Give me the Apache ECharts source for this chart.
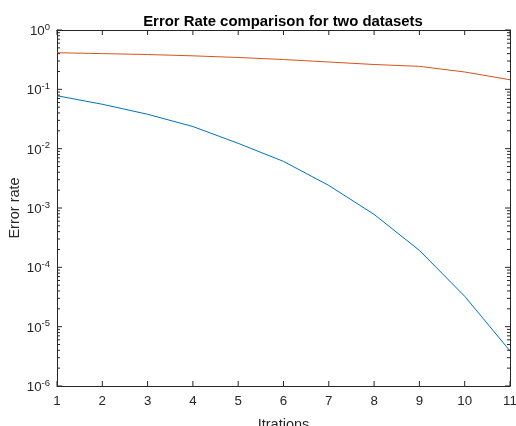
<!DOCTYPE html>
<html>
<head>
<meta charset="utf-8">
<script src="https://cdn.jsdelivr.net/npm/echarts@6/dist/echarts.min.js"></script>
<style>html,body{margin:0;padding:0;background:#fff;}#c{width:516px;height:426px;}</style>
</head>
<body>
<div id="c"></div>
<script>
const iterations = [1, 2, 3, 4, 5, 6, 7, 8, 9, 10, 11];
const datasetA = [0.078, 0.056, 0.038, 0.0236, 0.0123, 0.0061, 0.0024, 0.00078, 0.000193, 0.0000325, 0.0000039];
const datasetB = [0.414, 0.400, 0.386, 0.367, 0.344, 0.318, 0.289, 0.262, 0.244, 0.196, 0.145];
const xTicks = [1, 2, 3, 4, 5, 6, 7, 8, 9, 10, 11];
const yMajorTicks = [1e-6, 1e-5, 1e-4, 1e-3, 1e-2, 1e-1, 1];
const yMinorTicks = [];
for (let e = -6; e < 0; e++) { for (let m = 2; m <= 9; m++) { yMinorTicks.push(m * Math.pow(10, e)); } }

const font = 'Liberation Sans, Arial, sans-serif';
const axisColor = '#262626';
const X_MIN = 1, X_MAX = 11, Y_MIN = 1e-6, Y_MAX = 1;
const chart = echarts.init(document.getElementById('c'));

function yTickSeries(values, len) {
  return {
    type: 'custom', silent: true, clip: false, z: 5,
    data: values.map(v => [X_MIN, v]),
    encode: { x: 0, y: 1 },
    renderItem: function (params, api) {
      const l = api.coord([X_MIN, api.value(1)]);
      const r = api.coord([X_MAX, api.value(1)]);
      const st = { stroke: axisColor, lineWidth: 1 };
      return {
        type: 'group', children: [
          { type: 'line', shape: { x1: l[0], y1: l[1], x2: l[0] + len, y2: l[1] }, style: st },
          { type: 'line', shape: { x1: r[0], y1: r[1], x2: r[0] - len, y2: r[1] }, style: st }
        ]
      };
    }
  };
}

chart.setOption({
  animation: false,
  backgroundColor: '#fff',
  title: {
    text: 'Error Rate comparison for two datasets', left: 278, top: 9, textAlign: 'center',
    textStyle: { fontSize: 14.9, fontWeight: 'bold', fontFamily: font, color: '#000' }
  },
  grid: { left: 57, right: 6, top: 30, bottom: 40, containLabel: false, outerBoundsMode: 'none' },
  xAxis: [
    {
      type: 'value', min: X_MIN, max: X_MAX, interval: 1, position: 'bottom',
      axisLine: { show: true, lineStyle: { color: axisColor } },
      axisTick: { show: false },
      axisLabel: { fontSize: 13.3, fontFamily: font, color: axisColor, margin: 9 },
      splitLine: { show: false },
      name: 'Itrations', nameLocation: 'middle', nameGap: 31, nameMoveOverlap: false,
      nameTextStyle: { fontSize: 14.5, fontFamily: font, color: axisColor }
    },
    {
      type: 'value', min: X_MIN, max: X_MAX, interval: 1, position: 'top',
      axisLine: { show: true, lineStyle: { color: axisColor } },
      axisTick: { show: false }, axisLabel: { show: false }, splitLine: { show: false }
    }
  ],
  yAxis: [
    {
      type: 'log', logBase: 10, min: Y_MIN, max: Y_MAX, position: 'left',
      axisLine: { show: true, lineStyle: { color: axisColor } },
      axisTick: { show: false },
      axisLabel: {
        show: true, margin: 7,
        formatter: function (v) { const e = Math.round(Math.log10(v)); return '{b|10}{s|' + e + '}'; },
        rich: {
          b: { fontSize: 13.3, fontFamily: font, color: axisColor, verticalAlign: 'bottom', lineHeight: 16, padding: [4, 0, 0, 0] },
          s: { fontSize: 9.5, fontFamily: font, color: axisColor, verticalAlign: 'top', lineHeight: 16, padding: [0, 0, 6, 0] }
        }
      },
      splitLine: { show: false },
      name: 'Error rate', nameLocation: 'middle', nameGap: 35, nameMoveOverlap: false,
      nameTextStyle: { fontSize: 14.5, fontFamily: font, color: axisColor }
    },
    {
      type: 'log', logBase: 10, min: Y_MIN, max: Y_MAX, position: 'right',
      axisLine: { show: true, lineStyle: { color: axisColor } },
      axisTick: { show: false }, axisLabel: { show: false }, splitLine: { show: false }
    }
  ],
  series: [
    {
      type: 'line', name: 'A', showSymbol: false, symbol: 'none',
      data: iterations.map((x, i) => [x, datasetA[i]]),
      lineStyle: { color: '#0072BD', width: 1 }, itemStyle: { color: '#0072BD' }
    },
    {
      type: 'line', name: 'B', showSymbol: false, symbol: 'none',
      data: iterations.map((x, i) => [x, datasetB[i]]),
      lineStyle: { color: '#D95319', width: 1 }, itemStyle: { color: '#D95319' }
    },
    yTickSeries(yMajorTicks, 5),
    yTickSeries(yMinorTicks, 3),
    {
      type: 'custom', silent: true, clip: false, z: 5,
      data: xTicks.map(v => [v, Y_MIN]),
      encode: { x: 0, y: 1 },
      renderItem: function (params, api) {
        const b = api.coord([api.value(0), Y_MIN]);
        const t = api.coord([api.value(0), Y_MAX]);
        const st = { stroke: axisColor, lineWidth: 1 };
        return {
          type: 'group', children: [
            { type: 'line', shape: { x1: b[0], y1: b[1], x2: b[0], y2: b[1] - 5 }, style: st },
            { type: 'line', shape: { x1: t[0], y1: t[1], x2: t[0], y2: t[1] + 5 }, style: st }
          ]
        };
      }
    }
  ]
});
</script>
</body>
</html>
